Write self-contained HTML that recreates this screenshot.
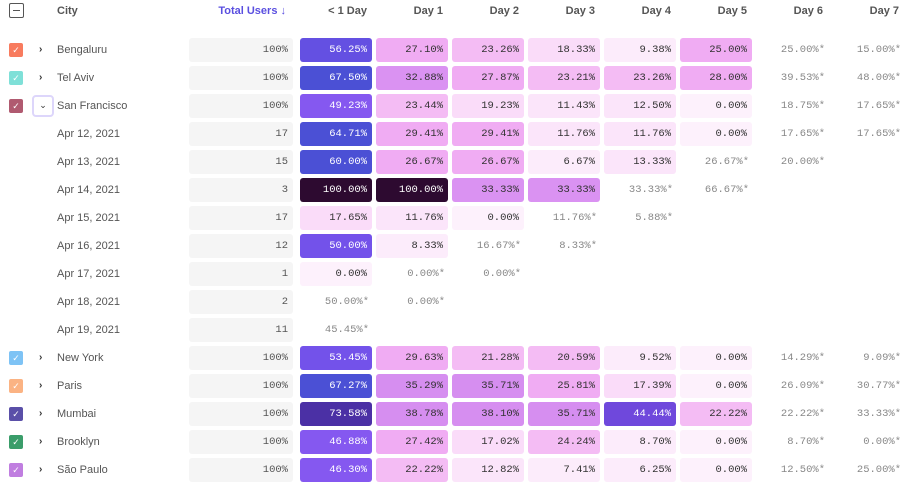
<!DOCTYPE html><html><head><meta charset="utf-8"><style>
body{margin:0;width:920px;height:483px;background:#fff;font-family:"Liberation Sans",sans-serif;position:relative;overflow:hidden}
div{position:absolute;box-sizing:border-box}
.h{top:3px;font-size:11px;font-weight:bold;color:#555;height:16px;line-height:16px}
.c{height:24px;line-height:24px;border-radius:3px;text-align:right;padding-right:5px;font-family:"Liberation Mono",monospace;font-size:10.5px;color:#333}
.n{font-size:11px;color:#555;height:24px;line-height:24px}
.cb{width:14px;height:14px;border-radius:2px;color:#fff;font-size:9px;line-height:14px;text-align:center}
.ar{font-size:10px;color:#333;height:24px;line-height:24px;font-weight:bold}
</style></head><body>
<div style="left:9px;top:3px;width:15px;height:15px;border:1px solid #555;border-radius:2px"><div style="left:3px;top:6px;width:7px;height:1px;background:#555"></div></div>
<div class="h" style="left:57px">City</div>
<div class="h" style="left:189px;width:97px;text-align:right;color:#5a4fe0">Total Users ↓</div>
<div id="hd"></div>
<script>
const cols=["< 1 Day","Day 1","Day 2","Day 3","Day 4","Day 5","Day 6","Day 7"];
let H="";
cols.forEach((c,i)=>{H+=`<div class="h" style="left:${300+76*i}px;width:67px;text-align:right">${c}</div>`});
const rows=[
["Bengaluru","#f87b5e",0,"100%",["56.25","27.10","23.26","18.33","9.38","25.00","25.00*","15.00*"]],
["Tel Aviv","#7fe0d8",0,"100%",["67.50","32.88","27.87","23.21","23.26","28.00","39.53*","48.00*"]],
["San Francisco","#b05a70",1,"100%",["49.23","23.44","19.23","11.43","12.50","0.00","18.75*","17.65*"]],
["Apr 12, 2021",null,2,"17",["64.71","29.41","29.41","11.76","11.76","0.00","17.65*","17.65*"]],
["Apr 13, 2021",null,2,"15",["60.00","26.67","26.67","6.67","13.33","26.67*","20.00*"]],
["Apr 14, 2021",null,2,"3",["100.00","100.00","33.33","33.33","33.33*","66.67*"]],
["Apr 15, 2021",null,2,"17",["17.65","11.76","0.00","11.76*","5.88*"]],
["Apr 16, 2021",null,2,"12",["50.00","8.33","16.67*","8.33*"]],
["Apr 17, 2021",null,2,"1",["0.00","0.00*","0.00*"]],
["Apr 18, 2021",null,2,"2",["50.00*","0.00*"]],
["Apr 19, 2021",null,2,"11",["45.45*"]],
["New York","#7ec3f5",0,"100%",["53.45","29.63","21.28","20.59","9.52","0.00","14.29*","9.09*"]],
["Paris","#fbb383",0,"100%",["67.27","35.29","35.71","25.81","17.39","0.00","26.09*","30.77*"]],
["Mumbai","#5a4fa8",0,"100%",["73.58","38.78","38.10","35.71","44.44","22.22","22.22*","33.33*"]],
["Brooklyn","#3a9d6a",0,"100%",["46.88","27.42","17.02","24.24","8.70","0.00","8.70*","0.00*"]],
["São Paulo","#c07ee0",0,"100%",["46.30","22.22","12.82","7.41","6.25","0.00","12.50*","25.00*"]]];
function col(v){if(v>=99)return"#2d0a30";if(v>=70)return"#4b30a5";if(v>=60)return"#4b50d5";if(v>=55)return"#6450e2";if(v>=50)return"#7352ea";if(v>=45)return"#8558f0";if(v>=40)return"#6f48dc";if(v>=35)return"#d68ef0";if(v>=30)return"#da92f2";if(v>=25)return"#f0acf3";if(v>=20)return"#f4bcf4";if(v>=15)return"#fadcf9";if(v>=10)return"#fbe5fa";if(v>=5)return"#fcecfb";return"#fdf1fc"}
rows.forEach((r,i)=>{const t=38+28*i;
if(r[1])H+=`<div class="cb" style="left:9px;top:${t+5}px;background:${r[1]}">✓</div>`;
if(r[2]==0)H+=`<div class="ar" style="left:39px;top:${t}px">›</div>`;
if(r[2]==1)H+=`<div style="left:32px;top:${t+1}px;width:22px;height:22px;border:2px solid #ddd6fb;border-radius:4px;text-align:center;font-size:9px;line-height:17px;color:#333">⌄</div>`;
H+=`<div class="n" style="left:57px;top:${t}px">${r[0]}</div>`;
H+=`<div class="c" style="left:189px;top:${t}px;width:104px;background:#f5f5f5;color:#555">${r[3]}</div>`;
r[4].forEach((s,j)=>{const l=300+76*j;if(s.endsWith("*")){H+=`<div class="c" style="left:${l}px;top:${t}px;width:72px;padding-right:3px;color:#888">${s.slice(0,-1)}%*</div>`}else{const v=parseFloat(s);H+=`<div class="c" style="left:${l}px;top:${t}px;width:72px;background:${col(v)};color:${v>=40?"#fff":"#333"}">${s}%</div>`}})});
document.getElementById("hd").outerHTML=H;
</script></body></html>
